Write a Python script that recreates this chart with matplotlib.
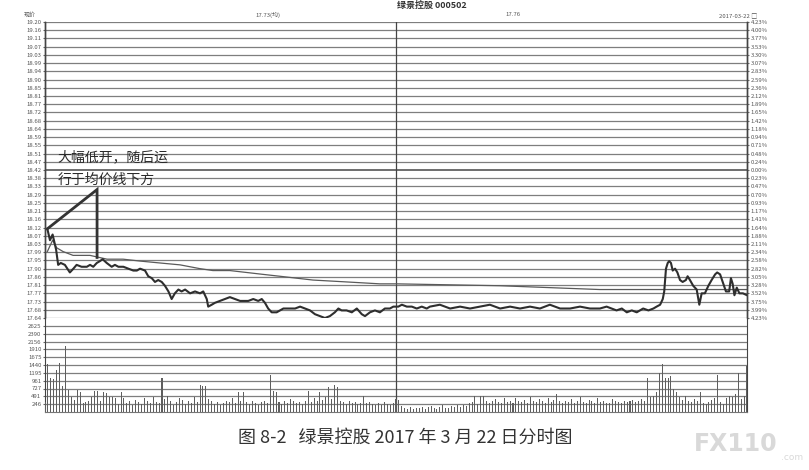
import numpy as np
import matplotlib
matplotlib.use("Agg")
import matplotlib.pyplot as plt

plt.rcParams['font.family'] = ['Noto Sans CJK SC', 'DejaVu Sans']

# ---------------- data ----------------
title = "绿景控股 000502"
caption = "图 8-2   绿景控股 2017 年 3 月 22 日分时图"
date_label = "2017-03-22"
avg_label = "17.73(均)"
last_label = "17.76"
prev_close = 18.42

price_labels = ["19.20", "19.16", "19.11", "19.07", "19.03", "18.99", "18.94", "18.90",
                "18.85", "18.81", "18.77", "18.72", "18.68", "18.64", "18.59", "18.55",
                "18.51", "18.47", "18.42", "18.38", "18.33", "18.29", "18.25", "18.21",
                "18.16", "18.12", "18.07", "18.03", "17.99", "17.95", "17.90", "17.86",
                "17.81", "17.77", "17.73", "17.68", "17.64"]
pct_labels = ["4.23%", "4.00%", "3.77%", "3.53%", "3.30%", "3.07%", "2.83%", "2.59%",
              "2.36%", "2.12%", "1.89%", "1.65%", "1.42%", "1.18%", "0.94%", "0.71%",
              "0.48%", "0.24%", "0.00%", "0.23%", "0.47%", "0.70%", "0.93%", "1.17%",
              "1.41%", "1.64%", "1.88%", "2.11%", "2.34%", "2.58%", "2.82%", "3.05%",
              "3.28%", "3.52%", "3.75%", "3.99%", "4.23%"]
vol_labels = ["2625", "2390", "2156", "1910", "1675", "1440", "1195", "961", "727", "491", "246"]

price_min = [0.8, 1.7, 2.6, 3.8, 4.5, 5.4, 6.8, 8.5, 9.7, 10.8, 12.5, 14.3, 15.4, 16.5,
             17.7, 18.8, 19.7, 21.1, 22.8, 23.9, 25.1, 26.8, 28.5, 30.2, 31.4, 32.5, 34.2,
             35.3, 36.5, 37.6, 38.7, 39.9, 41.0, 42.2, 43.3, 44.4, 45.6, 46.7, 47.9, 49.6,
             51.3, 53.0, 54.1, 55.3, 55.8, 57.0, 58.1, 59.8, 61.5, 63.2, 65.0, 66.7, 67.8,
             69.5, 71.2, 72.9, 74.1, 75.2, 76.3, 77.5, 79.2, 81.5, 83.2, 85.5, 87.2, 88.9,
             90.6, 92.3, 94.0, 95.7, 97.4, 99.1, 100.3, 101.4, 103.1, 104.9, 106.6, 108.3,
             109.4, 111.1, 112.8, 114.5, 116.2, 117.9, 119.1, 120.8, 122.0, 123.7, 125.4,
             127.1, 128.8, 130.5, 131.6, 135.0, 138.5, 141.9, 145.3, 148.7, 152.1, 155.6,
             159.0, 162.4, 165.8, 169.2, 172.6, 176.1, 179.5, 182.9, 186.3, 189.7, 192.0,
             193.7, 195.4, 197.2, 198.9, 200.6, 202.3, 203.4, 204.5, 206.3, 208.0, 209.1,
             210.3, 211.2, 211.7, 212.3, 212.9, 213.4, 214.0, 214.6, 215.4, 216.2, 217.1,
             218.0, 219.1, 219.7, 220.5, 221.6, 222.8, 223.7, 224.5, 225.6, 226.8, 227.9,
             229.1, 229.8, 230.8, 231.9, 232.8, 233.9, 234.5, 235.1, 235.7, 236.5, 237.4,
             238.6, 240.0]
price_val = [18.11, 18.05, 18.08, 18.00, 17.92, 17.93, 17.92, 17.88, 17.90, 17.92, 17.91,
             17.91, 17.92, 17.91, 17.93, 17.94, 17.95, 17.93, 17.91, 17.92, 17.91, 17.91,
             17.90, 17.89, 17.89, 17.90, 17.89, 17.86, 17.85, 17.83, 17.84, 17.83, 17.81,
             17.78, 17.74, 17.77, 17.79, 17.78, 17.79, 17.77, 17.78, 17.77, 17.78, 17.74,
             17.70, 17.71, 17.72, 17.73, 17.74, 17.75, 17.74, 17.73, 17.73, 17.73, 17.74,
             17.73, 17.74, 17.72, 17.69, 17.67, 17.67, 17.69, 17.69, 17.69, 17.70, 17.69,
             17.68, 17.66, 17.65, 17.64, 17.65, 17.67, 17.69, 17.68, 17.68, 17.67, 17.69,
             17.66, 17.65, 17.67, 17.68, 17.67, 17.69, 17.69, 17.70, 17.70, 17.71, 17.70,
             17.70, 17.69, 17.70, 17.69, 17.70, 17.71, 17.69, 17.70, 17.69, 17.70, 17.71,
             17.69, 17.70, 17.69, 17.70, 17.69, 17.71, 17.69, 17.69, 17.70, 17.69, 17.69,
             17.70, 17.69, 17.68, 17.69, 17.67, 17.68, 17.67, 17.68, 17.69, 17.68, 17.69,
             17.70, 17.71, 17.74, 17.78, 17.90, 17.93, 17.94, 17.93, 17.89, 17.90, 17.88,
             17.84, 17.83, 17.84, 17.86, 17.84, 17.81, 17.79, 17.71, 17.77, 17.77, 17.81,
             17.84, 17.87, 17.88, 17.87, 17.82, 17.78, 17.78, 17.85, 17.82, 17.76, 17.80,
             17.77, 17.77, 17.76]

avg_min = [0.8, 2.6, 4.0, 6.2, 9.6, 15.4, 21.2, 26.7, 32.5, 39.3, 46.2, 53.0, 57.4, 63.2,
           74.5, 80.3, 91.6, 103.2, 114.5, 120.3, 155.6, 189.7, 210.3, 224.0, 240.0]
avg_val = [17.99, 18.05, 18.01, 17.99, 17.97, 17.97, 17.95, 17.95, 17.94, 17.93, 17.92,
           17.90, 17.89, 17.89, 17.87, 17.86, 17.84, 17.83, 17.82, 17.82, 17.81, 17.79,
           17.79, 17.79, 17.79]

volume = [300, 1450, 1050, 1020, 1290, 1500, 800, 2000, 680, 460,
          370, 670, 620, 275, 300, 340, 450, 650, 630, 350,
          620, 580, 450, 450, 430, 250, 620, 440, 260, 330,
          220, 380, 300, 250, 420, 350, 280, 460, 300, 260,
          1040, 400, 480, 350, 220, 300, 420, 380, 250, 330,
          280, 450, 300, 820, 800, 780, 400, 330, 250, 300,
          200, 260, 340, 300, 420, 280, 600, 350, 600, 300,
          250, 320, 280, 200, 300, 340, 260, 1130, 650, 620,
          300, 250, 330, 280, 400, 350, 280, 300, 250, 330,
          650, 300, 420, 350, 600, 380, 450, 760, 400, 816,
          760, 350, 300, 250, 330, 280, 300, 250, 280, 500,
          260, 300, 250, 200, 280, 220, 300, 250, 200, 280,
          400, 380, 180, 120, 100, 150, 90, 130, 110, 160,
          100, 140, 180, 120, 90, 150, 200, 130, 110, 170,
          140, 200, 160, 220, 180, 260, 300, 500, 250, 500,
          480, 320, 280, 350, 400, 300, 260, 420, 300, 350,
          280, 420, 330, 300, 380, 260, 450, 320, 300, 400,
          350, 280, 420, 300, 380, 550, 320, 280, 350, 300,
          400, 280, 330, 450, 300, 260, 380, 320, 280, 420,
          300, 350, 280, 260, 400, 320, 300, 280, 350, 300,
          330, 380, 300, 350, 400, 320, 1030, 450, 500, 600,
          1200, 1450, 1030, 1030, 1100, 710, 600, 450, 380, 500,
          320, 300, 400, 350, 600, 280, 250, 300, 380, 420,
          1130, 300, 250, 420, 480, 450, 550, 1190, 400, 500, 1400]

note_lines = ["大幅低开，随后运", "行于均价线下方"]

# ---------------- figure ----------------
W, H = 809, 470
fig = plt.figure(figsize=(W / 100, H / 100), dpi=100)
fig.patch.set_facecolor('white')

L, R = 45, 747
top_p, bot_p, bot_v = 22, 318, 412
ax = fig.add_axes([L / W, 1 - bot_p / H, (R - L) / W, (bot_p - top_p) / H])
axv = fig.add_axes([L / W, 1 - bot_v / H, (R - L) / W, (bot_v - bot_p) / H])

n_min = 240
pmax, pmin = float(price_labels[0]), float(price_labels[-1])
ptick = np.linspace(pmax, pmin, len(price_labels))
grid_c = '#7e7e7e'
lab_c = '#555555'
fs_tick = 4.3

ax.set_xlim(0, n_min)
ax.set_ylim(pmin, pmax)
for y in ptick:
    dark = abs(y - prev_close) < 1e-6
    ax.axhline(y, color='#555555' if dark else grid_c, lw=1.2 if dark else 0.9, zorder=1)
ax.axvline(n_min / 2, color='#444444', lw=0.9, zorder=1)
ax.set_yticks(ptick)
ax.set_yticklabels(price_labels, fontsize=fs_tick, color=lab_c)
ax.tick_params(axis='y', length=1.5, pad=1, color='#666666')
ax.set_xticks([])
axr = ax.twinx()
axr.set_ylim(pmin, pmax)
axr.set_yticks(ptick)
axr.set_yticklabels(pct_labels, fontsize=fs_tick, color=lab_c)
axr.tick_params(axis='y', length=1.5, pad=1, color='#666666')
for a in (ax, axr):
    for s in ('top', 'bottom'):
        a.spines[s].set_visible(False)
    a.spines['left'].set_color('#444444')
    a.spines['right'].set_color('#444444')
    a.spines['left'].set_linewidth(1.0)
    a.spines['right'].set_linewidth(1.0)

ax.plot(avg_min, avg_val, color='#5a5a5a', lw=0.9, zorder=3)
ax.plot(price_min, price_val, color='#2e2e2e', lw=1.5, zorder=4)

# annotation
ax.text(4.4, 18.486, note_lines[0], fontsize=10, color='#2a2a2a', va='center', ha='left', zorder=5)
ax.text(4.4, 18.37, note_lines[1], fontsize=10, color='#2a2a2a', va='center', ha='left', zorder=5)
ax.plot([price_min[0], 17.8, 17.8], [price_val[0], 18.317, 17.959],
        color='#333333', lw=2.0, zorder=5, solid_joinstyle='miter')

# volume
vmax_tick = float(vol_labels[0])
vticks = np.arange(1, len(vol_labels) + 1) * vmax_tick / len(vol_labels)
axv.set_xlim(0, n_min)
axv.set_ylim(0, vmax_tick * (len(vol_labels) + 1) / len(vol_labels))
for y in vticks:
    axv.axhline(y, color=grid_c, lw=0.9, zorder=1)
axv.axvline(n_min / 2, color='#444444', lw=0.9, zorder=1)
axv.bar(np.arange(len(volume)), volume, width=0.35, color='#5e5e5e', zorder=3)
axv.set_yticks(vticks)
axv.set_yticklabels(vol_labels[::-1], fontsize=fs_tick, color=lab_c)
axv.tick_params(axis='y', length=1.5, pad=1, color='#666666')
axv.set_xticks([])
axv.spines['top'].set_visible(False)
axv.spines['bottom'].set_color('#777777')
axv.spines['left'].set_color('#444444')
axv.spines['right'].set_color('#444444')

# header texts
fig.text(432 / W, 1 - 5 / H, title, fontsize=6.5, fontweight='bold', color='#333333',
         ha='center', va='center')
fig.text(30 / W, 1 - 15 / H, "现价", fontsize=4.3, color=lab_c, ha='center', va='center')
fig.text(268 / W, 1 - 15 / H, avg_label, fontsize=4.3, color=lab_c, ha='center', va='center')
fig.text(513 / W, 1 - 15 / H, last_label, fontsize=4.3, color=lab_c, ha='center', va='center')
fig.text(738 / W, 1 - 15 / H, date_label + " □", fontsize=4.3, color=lab_c, ha='center', va='center')

# caption
fig.text(405 / W, 1 - 438 / H, caption, fontsize=13, color='#333333', ha='center', va='center')
# watermark
fig.text(736 / W, 1 - 444 / H, "FX110", fontsize=17, fontweight='bold', color='#d9d9d9',
         ha='center', va='center', family='DejaVu Sans')
fig.text(792 / W, 1 - 458 / H, ".com", fontsize=6.5, color='#d9d9d9', ha='center', va='center',
         family='DejaVu Sans')

fig.savefig("out.png", dpi=100, facecolor='white')
